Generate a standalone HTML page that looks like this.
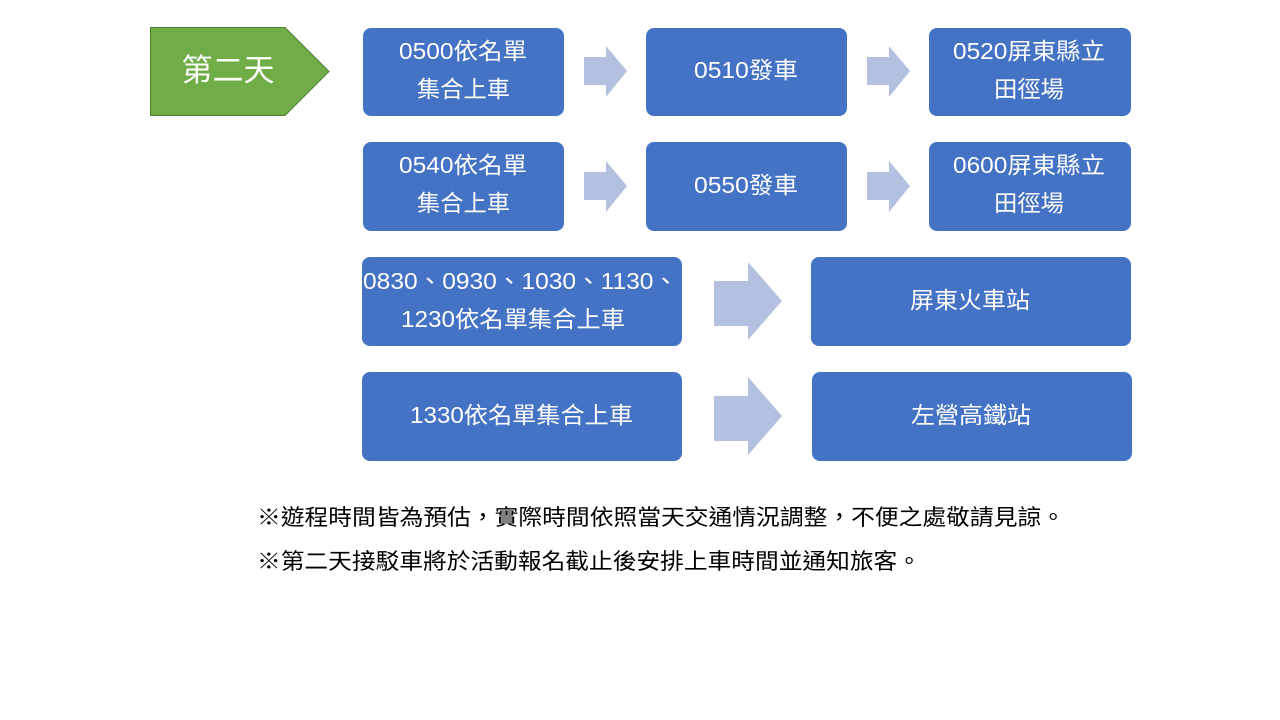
<!DOCTYPE html>
<html><head><meta charset="utf-8"><style>
html,body{margin:0;padding:0;background:#fff;width:1280px;height:720px;overflow:hidden}
svg text{font-family:"Liberation Sans","Noto Sans CJK TC",sans-serif}
</style></head><body>
<svg width="1280" height="720" viewBox="0 0 1280 720" xmlns="http://www.w3.org/2000/svg">
<polygon points="150.5,27.5 285,27.5 329,71.5 285,115.5 150.5,115.5" fill="#70AD47" stroke="#507E32" stroke-width="1"/>
<text x="228" y="81" font-size="31" fill="#fff" text-anchor="middle">第二天</text>
<g fill="#4472C4">
<rect x="363" y="28" width="201" height="88" rx="8"/>
<rect x="646" y="28" width="201" height="88" rx="8"/>
<rect x="929" y="28" width="202" height="88" rx="8"/>
<rect x="363" y="142" width="201" height="89" rx="8"/>
<rect x="646" y="142" width="201" height="89" rx="8"/>
<rect x="929" y="142" width="202" height="89" rx="8"/>
<rect x="362" y="257" width="320" height="89" rx="8"/>
<rect x="811" y="257" width="320" height="89" rx="8"/>
<rect x="362" y="372" width="320" height="89" rx="8"/>
<rect x="812" y="372" width="320" height="89" rx="8"/>
</g>
<g fill="#B4C0E0">
<polygon points="584,57 606,57 606,46 627,71 606,97 606,85 584,85"/>
<polygon points="867,57 889,57 889,46 910,71 889,97 889,85 867,85"/>
<polygon points="584,172 606,172 606,161 627,186 606,212 606,200 584,200"/>
<polygon points="867,172 889,172 889,161 910,186 889,212 889,200 867,200"/>
<polygon points="714,281 748,281 748,262 782,301 748,340 748,326 714,326"/>
<polygon points="714,396 748,396 748,377 782,416 748,455 748,441 714,441"/>
</g>
<g fill="#fff" font-size="23">
<text x="399" y="59" textLength="128" lengthAdjust="spacingAndGlyphs">0500依名單</text>
<text x="417" y="97" textLength="93" lengthAdjust="spacingAndGlyphs">集合上車</text>
<text x="694" y="78" textLength="104" lengthAdjust="spacingAndGlyphs">0510發車</text>
<text x="953" y="59" textLength="152" lengthAdjust="spacingAndGlyphs">0520屏東縣立</text>
<text x="994" y="97" textLength="70" lengthAdjust="spacingAndGlyphs">田徑場</text>
<text x="399" y="173" textLength="128" lengthAdjust="spacingAndGlyphs">0540依名單</text>
<text x="417" y="211" textLength="93" lengthAdjust="spacingAndGlyphs">集合上車</text>
<text x="694" y="193" textLength="104" lengthAdjust="spacingAndGlyphs">0550發車</text>
<text x="953" y="173" textLength="152" lengthAdjust="spacingAndGlyphs">0600屏東縣立</text>
<text x="994" y="211" textLength="70" lengthAdjust="spacingAndGlyphs">田徑場</text>
<text x="363" y="289" textLength="315" lengthAdjust="spacingAndGlyphs">0830、0930、1030、1130、</text>
<text x="401" y="327" textLength="224" lengthAdjust="spacingAndGlyphs">1230依名單集合上車</text>
<text x="910" y="308" textLength="120" lengthAdjust="spacingAndGlyphs">屏東火車站</text>
<text x="410" y="423" textLength="223" lengthAdjust="spacingAndGlyphs">1330依名單集合上車</text>
<text x="911" y="423" textLength="120" lengthAdjust="spacingAndGlyphs">左營高鐵站</text>
</g>
<g fill="#000" font-size="22">
<text x="257" y="525" textLength="808" lengthAdjust="spacingAndGlyphs">※遊程時間皆為預估，實際時間依照當天交通情況調整，不便之處敬請見諒。</text>
<text x="257" y="569" textLength="664" lengthAdjust="spacingAndGlyphs">※第二天接駁車將於活動報名截止後安排上車時間並通知旅客。</text>
</g>
</svg>
</body></html>
